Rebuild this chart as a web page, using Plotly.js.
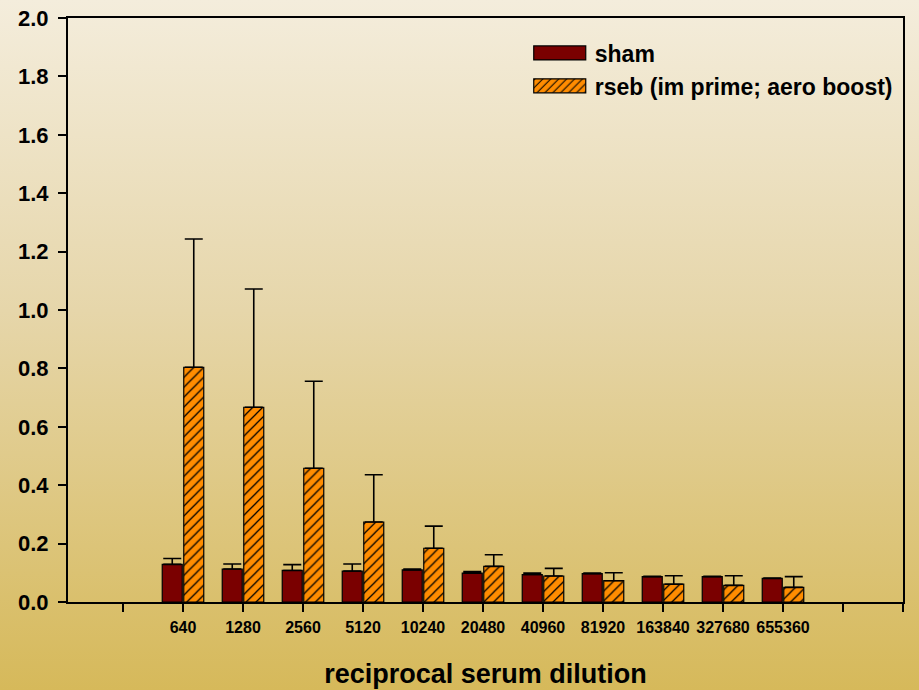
<!DOCTYPE html>
<html>
<head>
<meta charset="utf-8">
<script src="https://cdn.plot.ly/plotly-3.0.1.min.js"></script>
<style>
html,body{margin:0;padding:0;}
body{width:919px;height:690px;background:linear-gradient(to bottom,#F4EDDC 0%,#E6D6AA 45%,#D6B95A 100%);}
#chart{width:919px;height:690px;}
</style>
</head>
<body>
<div id="chart"></div>
<script>
const dilutions = ["640","1280","2560","5120","10240","20480","40960","81920","163840","327680","655360"];
const shamMean = [0.129,0.113,0.108,0.106,0.110,0.099,0.094,0.097,0.087,0.087,0.081];
const shamErr  = [0.020,0.017,0.020,0.024,0.003,0.005,0.005,0.002,0.001,0.001,0.001];
const rsebMean = [0.804,0.667,0.458,0.274,0.184,0.122,0.089,0.073,0.061,0.057,0.050];
const rsebErr  = [0.439,0.405,0.298,0.162,0.076,0.040,0.026,0.027,0.029,0.033,0.037];
const yTicks = [0,0.2,0.4,0.6,0.8,1.0,1.2,1.4,1.6,1.8,2.0];

// positions: categories at slots 2..12, extra empty slots 1, 13, 14
const pos = dilutions.map((d,i)=>i+2);
const tickVals = [1].concat(pos, [13,14]);
const tickText = [""].concat(dilutions, ["",""]);

const zeros = dilutions.map(()=>0);
const FONT = 'Liberation Sans, Arial, sans-serif';

const traces = [
  {
    type:'bar', name:'sham', x:pos, y:shamMean,
    marker:{color:'#7A0000', line:{color:'#000', width:1.2}},
    error_y:{type:'data', array:shamErr, arrayminus:zeros, symmetric:false, color:'#000', thickness:1.6, width:9}
  },
  {
    type:'bar', name:'rseb (im prime; aero boost)', x:pos, y:rsebMean,
    marker:{color:'#FF8C00', line:{color:'#000', width:1.2},
      pattern:{shape:'/', fgcolor:'#000', bgcolor:'#FF8C00', size:7, solidity:0.18, fillmode:'replace'}},
    error_y:{type:'data', array:rsebErr, arrayminus:zeros, symmetric:false, color:'#000', thickness:1.6, width:9}
  }
];

const layout = {
  width:919, height:690,
  margin:{l:68, r:16, t:18, b:88},
  paper_bgcolor:'rgba(0,0,0,0)',
  plot_bgcolor:'rgba(0,0,0,0)',
  barmode:'group', bargap:0.283, bargroupgap:0.07,
  font:{family:FONT, color:'#000'},
  showlegend:true,
  legend:{x:0.547, y:0.977, xanchor:'left', yanchor:'top', bgcolor:'rgba(0,0,0,0)',
    font:{size:23, family:FONT, weight:'bold'}, itemwidth:60, tracegroupgap:0, traceorder:'normal'},
  xaxis:{
    range:[0.0833,14], tickmode:'array', tickvals:tickVals, ticktext:tickText,
    showgrid:false, zeroline:false, showline:true, linecolor:'#000', linewidth:2, mirror:true,
    ticks:'outside', ticklen:8, tickwidth:2, tickcolor:'#000', ticklabelstandoff:2,
    tickfont:{size:16, weight:'bold', family:FONT},
    title:{text:'reciprocal serum dilution', font:{size:27, weight:'bold', family:FONT}, standoff:29}
  },
  yaxis:{
    range:[0,2], tickmode:'array', tickvals:yTicks, ticktext:yTicks.map(v=>v.toFixed(1)),
    showgrid:false, zeroline:false, showline:true, linecolor:'#000', linewidth:2, mirror:true,
    ticks:'outside', ticklen:8, tickwidth:2, tickcolor:'#000', ticklabelstandoff:5,
    tickfont:{size:22, weight:'bold', family:FONT}
  }
};

Plotly.newPlot('chart', traces, layout, {displayModeBar:false, staticPlot:true}).then(function(gd){
  // enlarge legend swatches to match reference
  gd.querySelectorAll('.legend .legendpoints path').forEach(function(p){
    p.setAttribute('d','M26,7H-26V-7H26Z');
  });
});
</script>
</body>
</html>
